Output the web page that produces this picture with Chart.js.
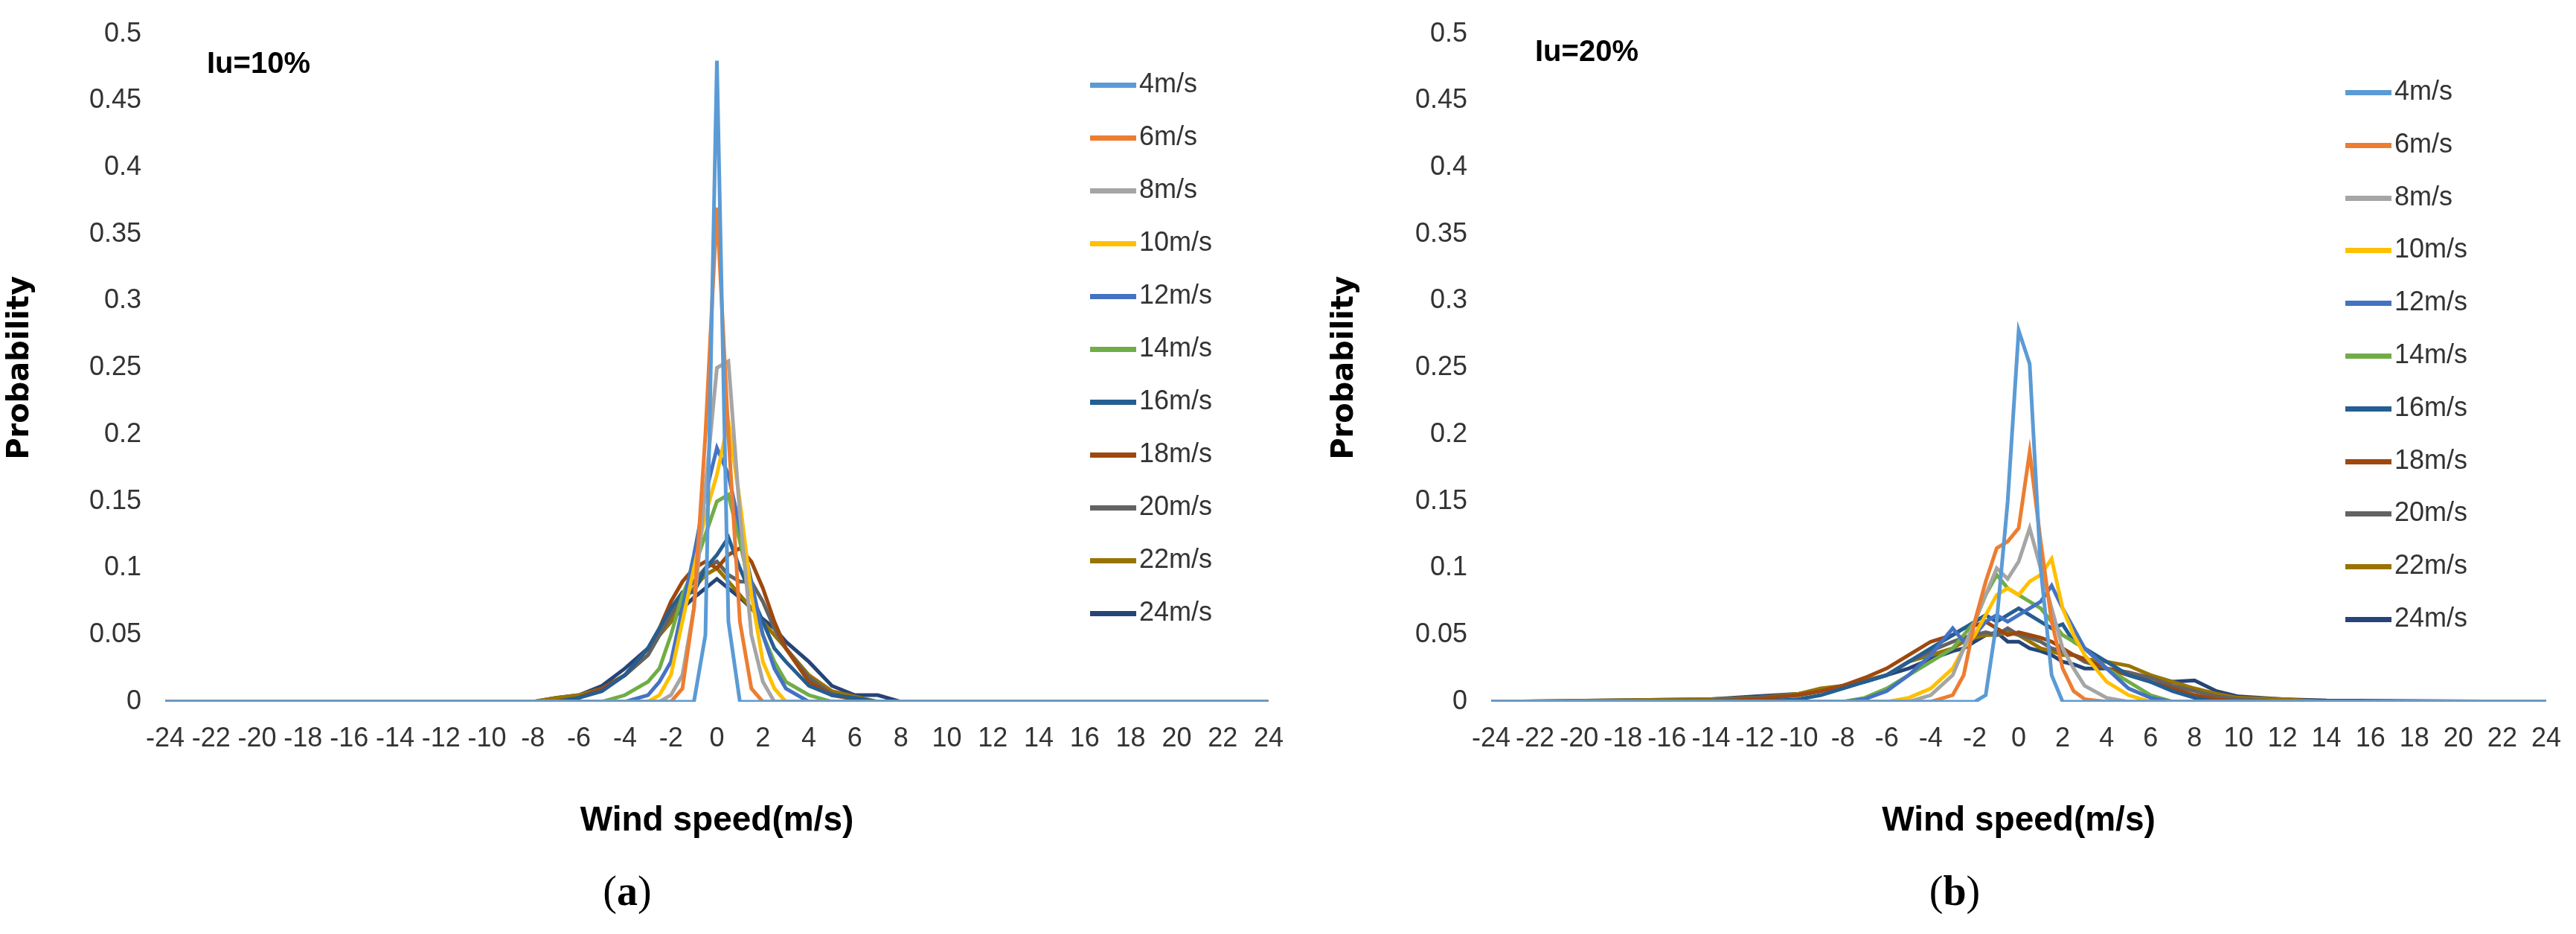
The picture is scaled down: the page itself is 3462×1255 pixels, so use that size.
<!DOCTYPE html>
<html><head><meta charset="utf-8">
<script src="https://cdn.jsdelivr.net/npm/chart.js@4"></script>
<style>
body{margin:0;background:#fff;width:3462px;height:1255px;position:relative;overflow:hidden;font-family:"Liberation Sans Narrow","Liberation Sans",sans-serif}
.cv{position:absolute;top:0}
.leg{position:absolute;font-size:36px;color:#333}
.leg div{position:absolute;white-space:nowrap;height:40px;line-height:40px}
.leg span{display:inline-block;width:62px;height:7px;vertical-align:middle;margin-right:4px}
.iu{position:absolute;font:bold 40px "Liberation Sans Narrow","Liberation Sans",sans-serif}
.cap{position:absolute;top:1165px;font:56px "Liberation Serif",serif;transform:translateX(-50%)}
</style></head><body>
<div class="cv" style="left:0;width:1745px;height:1135px"><canvas id="ca"></canvas></div>
<div class="cv" style="left:1780px;width:1682px;height:1135px"><canvas id="cb"></canvas></div>
<div class="iu" style="left:278px;top:62px">Iu=10%</div>
<div class="iu" style="left:2063px;top:46px">Iu=20%</div>
<div class="leg" id="lega" style="left:1465px;top:92px"></div>
<div class="leg" id="legb" style="left:3152px;top:102px"></div>
<div class="cap" style="left:843px">(<b>a</b>)</div>
<div class="cap" style="left:2627px">(<b>b</b>)</div>
<script>
const seriesNames=["4m/s","6m/s","8m/s","10m/s","12m/s","14m/s","16m/s","18m/s","20m/s","22m/s","24m/s"];
const colors=["#5B9BD5","#ED7D31","#A5A5A5","#FFC000","#4472C4","#70AD47","#255E91","#9E480E","#636363","#997300","#264478"];
const xTicks=[-24,-22,-20,-18,-16,-14,-12,-10,-8,-6,-4,-2,0,2,4,6,8,10,12,14,16,18,20,22,24];
const xA=[-24,-8,-7,-6,-5,-4,-3,-2.5,-2,-1.5,-1,-0.5,0,0.5,1,1.5,2,2.5,3,4,5,6,7,8,24];
const a4 =[0,0,0,0,0,0,0,0,0,0,0,0.05,0.48,0.06,0,0,0,0,0,0,0,0,0,0,0];
const a6 =[0,0,0,0,0,0,0,0,0,0.01,0.07,0.2,0.37,0.2,0.06,0.01,0,0,0,0,0,0,0,0,0];
const a8 =[0,0,0,0,0,0,0,0,0.005,0.02,0.07,0.16,0.25,0.255,0.14,0.05,0.015,0,0,0,0,0,0,0,0];
const a10=[0,0,0,0,0,0,0,0.005,0.02,0.06,0.1,0.14,0.17,0.21,0.15,0.08,0.03,0.01,0,0,0,0,0,0,0];
const a12=[0,0,0,0,0,0,0.005,0.015,0.03,0.07,0.11,0.155,0.19,0.17,0.13,0.09,0.05,0.025,0.01,0,0,0,0,0,0];
const a14=[0,0,0,0,0,0.005,0.015,0.025,0.05,0.08,0.1,0.125,0.15,0.155,0.12,0.08,0.05,0.03,0.015,0.005,0,0,0,0,0];
const a16=[0,0,0,0.003,0.008,0.02,0.04,0.055,0.07,0.082,0.082,0.1,0.11,0.123,0.1,0.08,0.06,0.04,0.03,0.012,0.005,0.003,0,0,0];
const a18=[0,0,0,0.003,0.01,0.02,0.04,0.055,0.075,0.09,0.1,0.105,0.1,0.11,0.115,0.105,0.085,0.06,0.04,0.015,0.005,0.002,0,0,0];
const a20=[0,0,0,0.003,0.01,0.02,0.035,0.05,0.065,0.08,0.09,0.1,0.105,0.095,0.09,0.09,0.075,0.055,0.04,0.018,0.006,0.002,0,0,0];
const a22=[0,0,0.003,0.005,0.01,0.02,0.035,0.05,0.06,0.075,0.085,0.095,0.1,0.09,0.08,0.07,0.06,0.05,0.04,0.02,0.008,0.004,0,0,0];
const a24=[0,0,0.003,0.005,0.012,0.025,0.04,0.05,0.06,0.07,0.078,0.085,0.092,0.085,0.078,0.07,0.062,0.055,0.045,0.03,0.012,0.005,0.005,0,0];
const xB=[-24,-14,-12,-10,-9,-8,-7,-6,-5,-4,-3,-2.5,-2,-1.5,-1,-0.5,0,0.5,1,1.5,2,2.5,3,4,5,6,7,8,9,10,12,14,24];
const b4 =[0,0,0,0,0,0,0,0,0,0,0,0,0,0.005,0.06,0.15,0.278,0.253,0.1,0.02,0,0,0,0,0,0,0,0,0,0,0,0,0];
const b6 =[0,0,0,0,0,0,0,0,0,0,0.005,0.02,0.06,0.09,0.115,0.12,0.13,0.187,0.12,0.06,0.025,0.008,0.002,0,0,0,0,0,0,0,0,0,0];
const b8 =[0,0,0,0,0,0,0,0,0,0.005,0.02,0.04,0.06,0.08,0.1,0.092,0.105,0.13,0.1,0.07,0.04,0.025,0.012,0.003,0,0,0,0,0,0,0,0,0];
const b10=[0,0,0,0,0,0,0,0,0.003,0.01,0.025,0.04,0.05,0.065,0.08,0.085,0.08,0.09,0.095,0.107,0.07,0.05,0.035,0.015,0.005,0,0,0,0,0,0,0,0];
const b12=[0,0,0,0,0,0,0.002,0.008,0.02,0.035,0.055,0.045,0.05,0.06,0.065,0.06,0.065,0.07,0.075,0.087,0.07,0.055,0.04,0.025,0.01,0.003,0,0,0,0,0,0,0];
const b14=[0,0,0,0,0,0,0.003,0.01,0.02,0.03,0.04,0.05,0.06,0.08,0.095,0.085,0.08,0.075,0.07,0.06,0.05,0.045,0.04,0.025,0.015,0.005,0,0,0,0,0,0,0];
const b16=[0,0,0,0.002,0.005,0.01,0.015,0.02,0.03,0.04,0.05,0.055,0.06,0.065,0.06,0.065,0.07,0.065,0.06,0.055,0.058,0.045,0.04,0.03,0.02,0.015,0.008,0.003,0,0,0,0,0];
const b18=[0,0,0.002,0.005,0.008,0.012,0.018,0.025,0.035,0.045,0.05,0.055,0.057,0.06,0.055,0.05,0.052,0.05,0.048,0.045,0.04,0.035,0.032,0.025,0.02,0.015,0.01,0.005,0.002,0,0,0,0];
const b20=[0,0.001,0.003,0.005,0.008,0.012,0.015,0.02,0.03,0.038,0.045,0.048,0.05,0.052,0.05,0.055,0.05,0.048,0.045,0.04,0.038,0.035,0.03,0.025,0.022,0.018,0.012,0.008,0.004,0.002,0,0,0];
const b22=[0,0.002,0.003,0.006,0.01,0.012,0.016,0.02,0.03,0.035,0.04,0.045,0.048,0.05,0.05,0.052,0.05,0.045,0.04,0.038,0.035,0.035,0.032,0.03,0.027,0.02,0.015,0.01,0.006,0.003,0.002,0,0];
const b24=[0,0.002,0.004,0.006,0.008,0.012,0.015,0.02,0.025,0.032,0.038,0.04,0.045,0.05,0.052,0.045,0.045,0.04,0.038,0.035,0.03,0.028,0.025,0.025,0.02,0.018,0.015,0.016,0.008,0.004,0.002,0.001,0];
const dataA=[a4,a6,a8,a10,a12,a14,a16,a18,a20,a22,a24];
const dataB=[b4,b6,b8,b10,b12,b14,b16,b18,b20,b22,b24];
const tf='"Liberation Sans Narrow","Liberation Sans",sans-serif';
function make(id,xs,data,yW,padR){
  new Chart(document.getElementById(id),{type:'line',
    data:{datasets:data.map((d,i)=>({label:seriesNames[i],data:d.map((v,j)=>({x:xs[j],y:v})),borderColor:colors[i],borderWidth:5,pointRadius:0,tension:0}))},
    options:{responsive:true,maintainAspectRatio:false,animation:false,
      layout:{padding:{top:44,right:padR,bottom:0,left:0}},
      plugins:{legend:{display:false},tooltip:{enabled:false}},
      scales:{
        x:{type:'linear',min:-24,max:24,afterBuildTicks:s=>{s.ticks=xTicks.map(v=>({value:v}));},
          grid:{display:false},border:{display:false},
          ticks:{autoSkip:false,maxRotation:0,color:'#333',font:{family:tf,size:36},padding:20},
          title:{display:true,text:'Wind speed(m/s)',color:'#000',font:{family:tf,size:46,weight:'bold'},padding:{top:26}},
          afterFit:s=>{s.height=192;}},
        y:{min:0,max:0.5,grid:{display:false},border:{display:false},
          ticks:{stepSize:0.05,color:'#333',font:{family:tf,size:36},padding:24,callback:v=>String(Math.round(v*100)/100)},
          title:{display:true,text:'Probability',color:'#000',font:{family:'"DejaVu Sans",sans-serif',size:40,weight:'bold'}},
          afterFit:s=>{s.width=yW;}}
      }}});
}
make('ca',xA,dataA,222,14);
make('cb',xB,dataB,224,21);
function leg(id,step){
  const el=document.getElementById(id);
  seriesNames.forEach((n,i)=>{const d=document.createElement('div');d.style.top=(i*step)+'px';
    d.innerHTML='<span style="background:'+colors[i]+'"></span>'+n;el.appendChild(d);});
}
leg('lega',71);leg('legb',70.8);
</script></body></html>
